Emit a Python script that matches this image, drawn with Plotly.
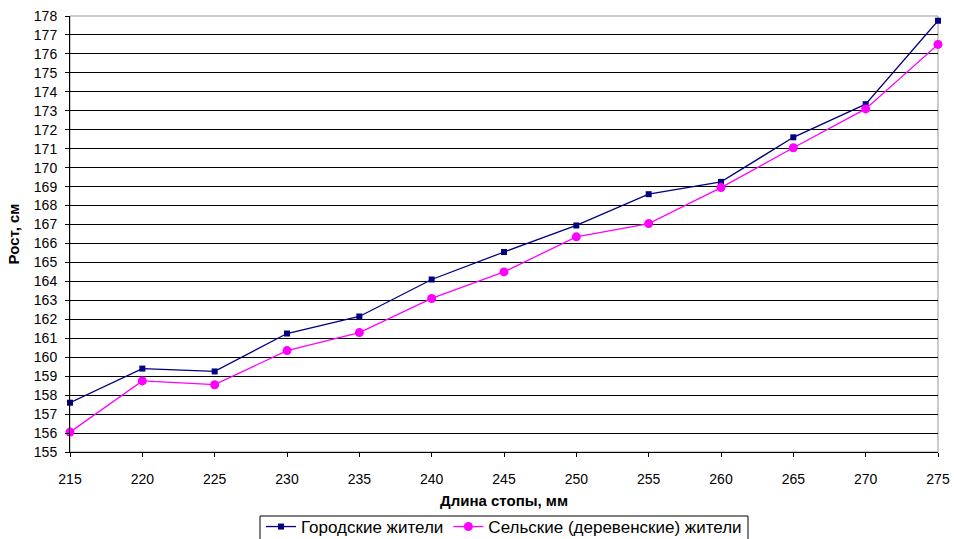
import plotly.graph_objects as go

foot_len = [215, 220, 225, 230, 235, 240, 245, 250, 255, 260, 265, 270, 275]
urban = [157.6, 159.4, 159.25, 161.25, 162.15, 164.1, 165.55, 166.95, 168.6, 169.25, 171.6, 173.35, 177.75]
rural = [156.05, 158.75, 158.55, 160.35, 161.3, 163.1, 164.5, 166.35, 167.05, 168.95, 171.05, 173.1, 176.5]
y_ticks = list(range(155, 179))

FONT = "Liberation Sans, Arial, sans-serif"

fig = go.Figure()
fig.add_trace(go.Scatter(x=foot_len, y=urban, mode="lines+markers", name="Городские жители",
                         line=dict(color="#000080", width=1.3),
                         marker=dict(symbol="square", size=6, color="#000080"),
                         cliponaxis=False))
fig.add_trace(go.Scatter(x=foot_len, y=rural, mode="lines+markers", name="Сельские (деревенские) жители",
                         line=dict(color="#FF00FF", width=1.3),
                         marker=dict(symbol="circle", size=9, color="#FF00FF"),
                         cliponaxis=False))

fig.update_layout(
    width=954, height=539,
    margin=dict(l=70, r=16, t=16, b=87, autoexpand=False),
    paper_bgcolor="white", plot_bgcolor="white",
    font=dict(family=FONT, size=14, color="black"),
    showlegend=True,
    legend=dict(orientation="h", x=0.5, xanchor="center", xref="paper",
                y=1 - 509 / 539, yanchor="top", yref="container",
                borderwidth=0, bgcolor="rgba(0,0,0,0)", font=dict(size=17),
                itemwidth=30, tracegroupgap=0, itemclick=False),
    xaxis=dict(range=[215, 275], tickvals=foot_len, showgrid=False,
               showline=True, linecolor="black", linewidth=1,
               ticks="outside", ticklen=4, tickcolor="black",
               tickfont=dict(size=14), ticklabelstandoff=10,
               title=dict(text="<b>Длина стопы, мм</b>", font=dict(size=15), standoff=15),
               zeroline=False, automargin=False),
    yaxis=dict(range=[155, 178], tickvals=y_ticks, showgrid=True, gridcolor="black", gridwidth=1,
               showline=True, linecolor="black", linewidth=1,
               ticks="outside", ticklen=4, tickcolor="black",
               tickfont=dict(size=14), ticklabelstandoff=5,
               title=dict(text="<b>Рост, см</b>", font=dict(size=15), standoff=10),
               zeroline=False, automargin=False),
)
# gray frame of the plot area
fig.add_shape(type="rect", xref="paper", yref="paper", x0=0, y0=0, x1=1, y1=1,
              line=dict(color="#999999", width=1), layer="below")
# legend box (extends past the bottom edge, as in the reference)
fig.add_shape(type="rect", xref="paper", yref="paper",
              x0=(260 - 70) / 868, x1=(748 - 70) / 868, y0=(452 - 516) / 436, y1=(452 - 560) / 436,
              line=dict(color="black", width=1), layer="above")

fig.write_html("out.html", config={"displayModeBar": False},
               post_script="document.body.style.margin='0';document.body.style.overflow='hidden';")
